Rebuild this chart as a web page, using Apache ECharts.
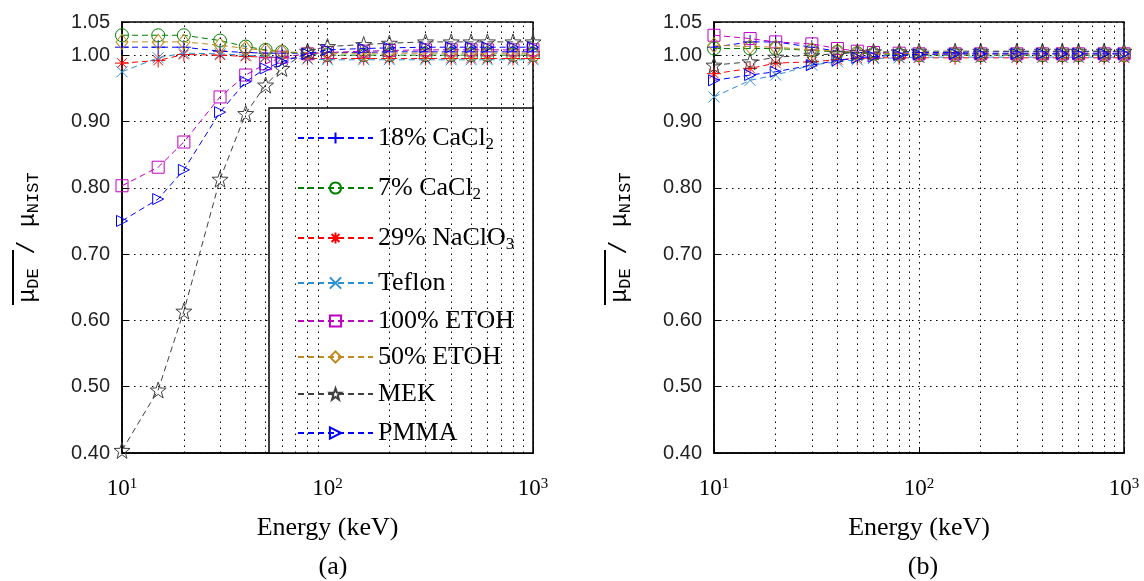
<!DOCTYPE html>
<html><head><meta charset="utf-8">
<script src="https://cdn.jsdelivr.net/npm/echarts@6/dist/echarts.min.js"></script>
<style>html,body{margin:0;padding:0;background:#fff}#c{width:1144px;height:581px}</style>
</head><body><div id="c"></div>
<script>
// ---- data ----
const energy = [10,15,20,30,40,50,60,80,100,150,200,300,400,500,600,800,1000];
const minorX = [20,30,40,50,60,70,80,90,200,300,400,500,600,700,800,900];
const names = ['18% CaCl2','7% CaCl2','29% NaClO3','Teflon','100% ETOH','50% ETOH','MEK','PMMA'];
// plot (a)
const a_cacl18 = [1.012,1.012,1.012,1.006,1.004,1.003,1.003,1.003,1.004,1.004,1.005,1.005,1.005,1.005,1.005,1.005,1.005];
const a_cacl7  = [1.030,1.030,1.030,1.022,1.013,1.008,1.005,1.002,1.000,1.000,1.000,1.000,1.000,1.000,1.000,1.000,1.000];
const a_naclo3 = [0.988,0.992,1.001,1.000,0.998,0.997,0.996,0.995,0.995,0.995,0.995,0.995,0.995,0.995,0.995,0.995,0.995];
const a_teflon = [0.975,0.996,1.003,1.002,1.000,0.998,0.996,0.994,0.993,0.993,0.993,0.993,0.993,0.993,0.993,0.993,0.993];
const a_etoh100= [0.803,0.831,0.869,0.937,0.970,0.987,0.997,1.002,1.004,1.006,1.007,1.008,1.008,1.008,1.008,1.008,1.008];
const a_etoh50 = [1.020,1.020,1.020,1.015,1.010,1.007,1.005,1.004,1.003,1.003,1.003,1.003,1.003,1.003,1.003,1.003,1.003];
const a_mek    = [0.404,0.495,0.614,0.813,0.912,0.955,0.980,1.006,1.013,1.016,1.018,1.020,1.020,1.020,1.020,1.020,1.020];
const a_pmma   = [0.750,0.783,0.827,0.914,0.960,0.980,0.990,1.002,1.008,1.010,1.011,1.012,1.012,1.012,1.012,1.012,1.012];
// plot (b)
const b_cacl18 = [1.012,1.020,1.020,1.012,1.006,1.004,1.003,1.003,1.004,1.004,1.005,1.005,1.005,1.005,1.005,1.005,1.005];
const b_cacl7  = [1.010,1.010,1.010,1.007,1.005,1.003,1.002,1.001,1.000,1.000,1.000,1.000,1.000,1.000,1.000,1.000,1.000];
const b_naclo3 = [0.972,0.980,0.988,0.990,0.993,0.995,0.996,0.996,0.996,0.996,0.996,0.996,0.996,0.996,0.996,0.996,0.996];
const b_teflon = [0.937,0.962,0.970,0.985,0.990,0.993,0.995,0.996,0.997,0.997,0.997,0.997,0.997,0.997,0.997,0.997,0.997];
const b_etoh100= [1.030,1.025,1.020,1.017,1.010,1.006,1.004,1.003,1.002,1.002,1.002,1.002,1.002,1.002,1.002,1.002,1.002];
const b_etoh50 = [1.015,1.013,1.012,1.008,1.006,1.004,1.003,1.002,1.002,1.002,1.002,1.002,1.002,1.002,1.002,1.002,1.002];
const b_mek    = [0.985,0.990,0.997,1.000,1.002,1.004,1.005,1.005,1.006,1.006,1.006,1.006,1.006,1.006,1.006,1.006,1.006];
const b_pmma   = [0.962,0.970,0.975,0.985,0.992,0.996,0.998,1.000,1.001,1.002,1.002,1.002,1.002,1.002,1.002,1.002,1.002];

const setA = [a_cacl18,a_cacl7,a_naclo3,a_teflon,a_etoh100,a_etoh50,a_mek,a_pmma];
const setB = [b_cacl18,b_cacl7,b_naclo3,b_teflon,b_etoh100,b_etoh50,b_mek,b_pmma];

// ---- styles ----
const colors = ['#0000ff','#008000','#ff0000','#2a8fd0','#c000c0','#c08a20','#404040','#0000ff'];
function starPath(){
  let p='path://';
  for(let k=0;k<10;k++){
    const r = k%2===0?10:4;
    const a = (-90 + k*36)*Math.PI/180;
    p += (k===0?'M':'L') + (r*Math.cos(a)).toFixed(2)+','+(r*Math.sin(a)).toFixed(2);
  }
  return p+'Z';
}
const symbols = [
  {s:'path://M0,-10L0,10M-10,0L10,0', size:14},
  {s:'circle', size:13},
  {s:'path://M0,-10L0,10M-10,0L10,0M-7,-7L7,7M-7,7L7,-7', size:14},
  {s:'path://M-10,-10L10,10M-10,10L10,-10', size:11},
  {s:'rect', size:12},
  {s:'diamond', size:[12,15]},
  {s:starPath(), size:16},
  {s:'path://M-10,-10L10,0L-10,10Z', size:11}
];
const legendLabel = {
  '18% CaCl2':'18% CaCl{s|2}','7% CaCl2':'7% CaCl{s|2}','29% NaClO3':'29% NaClO{s|3}',
  'Teflon':'Teflon','100% ETOH':'100% ETOH','50% ETOH':'50% ETOH','MEK':'MEK','PMMA':'PMMA'
};

const gridDot = {type:[1.5,4.5], color:'#000', width:1};

function buildSeries(set, gi){
  const out = set.map((vals,i)=>({
    name: names[i], type:'line', xAxisIndex:gi, yAxisIndex:gi,
    data: energy.map((e,j)=>[e, vals[j]]),
    symbol: symbols[i].s, symbolSize: symbols[i].size,
    showAllSymbol: true,
    lineStyle:{color:colors[i], width:1, type:[6,4]},
    itemStyle:{color:'none', borderColor:colors[i], borderWidth:1},
    emphasis:{disabled:true}, z: 2 + i*0.01
  }));
  out.push({
    type:'line', xAxisIndex:gi, yAxisIndex:gi, data:[], silent:true,
    markLine:{silent:true, symbol:['none','none'], label:{show:false},
      lineStyle:gridDot, animation:false,
      data: minorX.map(v=>({xAxis:v}))}
  });
  return out;
}

const legendCenters = [137,187,237,282,320,356,393,432];
const legends = names.map((n,i)=>({
  data:[n], left:292, top: legendCenters[i]-19, orient:'vertical',
  itemWidth:75, itemHeight:14, itemGap:5, z:5,
  formatter: nm => legendLabel[nm],
  textStyle:{fontFamily:'Liberation Serif', fontSize:26, color:'#000', lineHeight:30,
    rich:{s:{fontFamily:'Liberation Serif', fontSize:17, color:'#000', verticalAlign:'bottom', lineHeight:14}}},
  selectedMode:false
}));

function xAxisCfg(gi){
  return {type:'log', logBase:10, gridIndex:gi, min:10, max:1000,
    axisLine:{lineStyle:{color:'#000', width:1.5}},
    axisTick:{inside:true, length:6, lineStyle:{color:'#000'}},
    axisLabel:{color:'#000', fontFamily:'Liberation Serif', fontSize:23, margin:24,
      formatter: v => '10{sup|'+Math.round(Math.log10(v))+'}',
      rich:{sup:{fontFamily:'Liberation Serif', fontSize:15, color:'#000', verticalAlign:'top', lineHeight:12}}},
    splitLine:{show:true, lineStyle:gridDot},
    name:'Energy (keV)', nameLocation:'middle', nameGap:62,
    nameTextStyle:{fontFamily:'Liberation Serif', fontSize:26, color:'#000'}
  };
}
function yAxisCfg(gi){
  return {type:'value', gridIndex:gi, min:0.4, max:1.05, interval:0.1,
    axisLine:{lineStyle:{color:'#000', width:1.5}},
    axisTick:{inside:true, length:6, lineStyle:{color:'#000'}},
    axisLabel:{color:'#222', fontFamily:'Liberation Sans', fontSize:20, margin:12,
      formatter: v => v.toFixed(2)},
    splitLine:{show:true, lineStyle:gridDot},
    name:'{m|μ}{s|DE}{m| / μ}{s|NIST}', nameLocation:'middle', nameGap:80, nameRotate:90,
    nameTextStyle:{rich:{
      m:{fontFamily:'Liberation Mono', fontSize:23, color:'#000', lineHeight:28},
      s:{fontFamily:'Liberation Mono', fontSize:17, color:'#000', verticalAlign:'bottom', lineHeight:14}}}
  };
}

const chart = echarts.init(document.getElementById('c'), null, {renderer:'canvas'});
chart.setOption({
  animation:false,
  backgroundColor:'#fff',
  grid:[
    {left:122, top:22, width:411, height:431, show:true, borderColor:'#000', borderWidth:1.5},
    {left:714, top:22, width:410, height:431, show:true, borderColor:'#000', borderWidth:1.5}
  ],
  xAxis:[xAxisCfg(0), xAxisCfg(1)],
  yAxis:[yAxisCfg(0), yAxisCfg(1)],
  legend: legends,
  title:[
    {text:'(a)', left:328, top:549, textAlign:'center', textStyle:{fontFamily:'Liberation Serif', fontSize:26, fontWeight:'normal', color:'#000'}},
    {text:'(b)', left:918, top:549, textAlign:'center', textStyle:{fontFamily:'Liberation Serif', fontSize:26, fontWeight:'normal', color:'#000'}}
  ],
  graphic:[
    {type:'rect', z:3, shape:{x:269, y:108, width:264, height:345}, style:{fill:'#fff', stroke:'#000', lineWidth:1.5}},
    {type:'rect', z:3, shape:{x:12, y:250, width:2, height:55}, style:{fill:'#000'}},
    {type:'rect', z:3, shape:{x:604, y:250, width:2, height:55}, style:{fill:'#000'}}
  ],
  series: buildSeries(setA,0).concat(buildSeries(setB,1))
});
</script></body></html>
